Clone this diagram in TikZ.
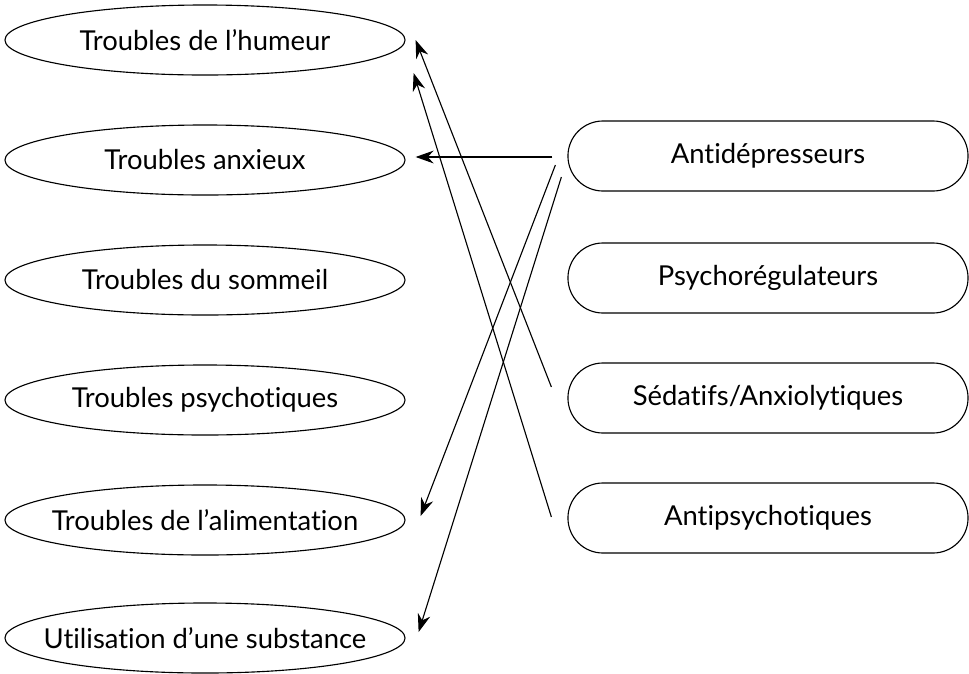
\documentclass[tikz,border=0pt]{standalone}
\usepackage{fontspec}
\setmainfont{Lato}[Ligatures=NoCommon]
\usepackage{tikz}
\usetikzlibrary{
  arrows.meta,
  shapes.geometric,
  positioning
}
% text kept out of the ellipse size
\newcommand{\nolarge}[1]{\makebox[0pt]{#1}}

\begin{document}
\begin{tikzpicture}[
  x=0.025cm, y=-0.025cm,
  trouble/.style={draw, ellipse, line width=0.8pt, inner sep=0pt,
                  minimum width=10cm, minimum height=1.75cm,
                  font=\fontsize{19.5}{22}\selectfont},
  classe/.style={draw, rectangle, rounded corners=0.875cm, line width=0.8pt,
                 minimum width=10cm, minimum height=1.75cm,
                 font=\fontsize{19.5}{22}\selectfont},
  arr/.style={-{Stealth[length=4.5mm, width=3.2mm]}, line width=0.8pt}
]
  \useasboundingbox (0,0) rectangle (969,673);

  % troubles (left column)
  \node[trouble] (humeur)  at (205, 40)  {\nolarge{Troubles de l’humeur}};
  \node[trouble] (anxieux) at (205, 160) {\nolarge{Troubles anxieux}};
  \node[trouble] (sommeil) at (205, 280) {\nolarge{Troubles du sommeil}};
  \node[trouble] (psychot) at (205, 400) {\nolarge{Troubles psychotiques}};
  \node[trouble] (aliment) at (205, 520) {\nolarge{Troubles de l’alimentation}};
  \node[trouble] (subst)   at (205, 638) {\nolarge{Utilisation d’une substance}};

  % classes de medicaments (right column)
  \node[classe] (antidep)   at (768, 156) {Antidépresseurs};
  \node[classe] (psychoreg) at (768, 278) {Psychorégulateurs};
  \node[classe] (sedatif)   at (768, 398) {Sédatifs/Anxiolytiques};
  \node[classe] (antipsy)   at (768, 518) {Antipsychotiques};

  \draw[arr] ([shift={(-15,1)}]antidep.west) -- ([shift={(10,-3)}]anxieux.east);
  \draw[arr] ([shift={(-12,9)}]antidep.west)  -- ([shift={(15,-4)}]aliment.east);
  \draw[arr] ([shift={(-6,21)}]antidep.west)  -- ([shift={(13,-6)}]subst.east);
  \draw[arr] ([shift={(-16,-11)}]sedatif.west) -- ([shift={(10,0)}]humeur.east);
  \draw[arr] ([shift={(-16,-1)}]antipsy.west)  -- ([shift={(8,33)}]humeur.east);
\end{tikzpicture}
\end{document}
